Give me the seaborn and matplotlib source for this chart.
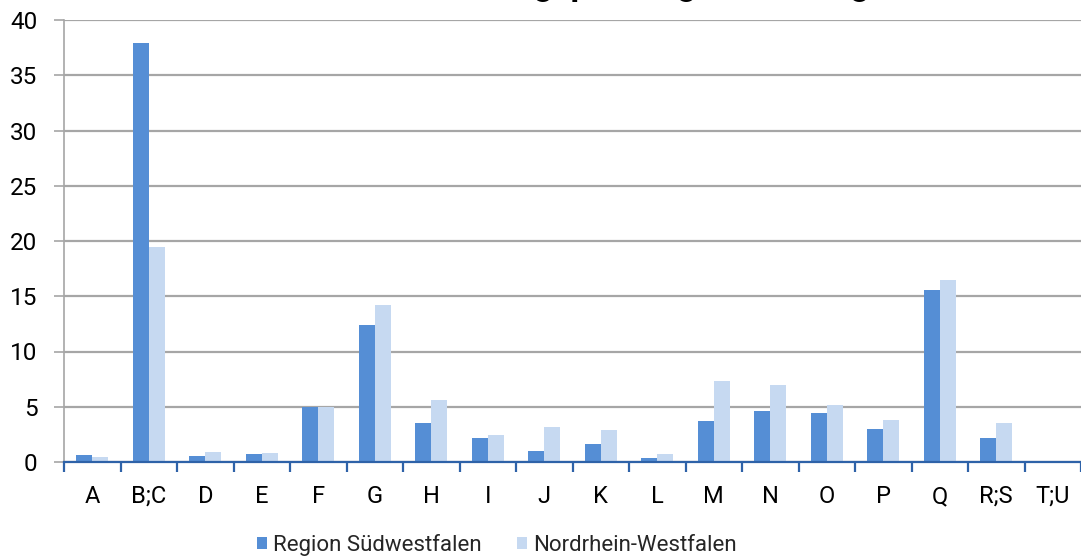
import matplotlib
matplotlib.use("Agg")
import matplotlib.pyplot as plt
import seaborn as sns
import pandas as pd
from matplotlib.ticker import MultipleLocator, FixedLocator
from matplotlib.patches import Patch

categories = ["A", "B;C", "D", "E", "F", "G", "H", "I", "J", "K", "L",
              "M", "N", "O", "P", "Q", "R;S", "T;U"]
series_names = ["Region Südwestfalen", "Nordrhein-Westfalen"]
suedwestfalen = [0.6, 37.9, 0.5, 0.7, 5.0, 12.4, 3.5, 2.2, 1.0, 1.6, 0.4,
                 3.7, 4.6, 4.4, 3.0, 15.6, 2.2, 0.1]
nrw = [0.45, 19.5, 0.9, 0.8, 5.0, 14.2, 5.6, 2.4, 3.2, 2.9, 0.7,
       7.3, 7.0, 5.2, 3.8, 16.5, 3.5, 0.06]
title_text = "Sozialversicherungspflichtig Beschäftigte"

df = pd.DataFrame({
    "cat": categories * 2,
    "val": suedwestfalen + nrw,
    "series": [series_names[0]] * len(categories) + [series_names[1]] * len(categories),
})

sns.set_theme(style="white")
plt.rcParams["font.family"] = ["Roboto", "DejaVu Sans"]

colors = ["#558ED5", "#C6D9F1"]
fig = plt.figure(figsize=(10.81, 5.57), dpi=100)
ax = fig.add_axes([64 / 1081, 1 - 462 / 557, 1 - 64 / 1081, (462 - 20) / 557])

sns.barplot(data=df, x="cat", y="val", hue="series", order=categories,
            hue_order=series_names, palette=colors, width=0.57,
            saturation=1, ax=ax, legend=False, linewidth=0)

ax.set_xlim(-0.5, len(categories) - 0.5)
ax.set_ylim(0, 40)
ax.yaxis.set_major_locator(MultipleLocator(5))
ax.grid(axis="y", color="#A6A6A6", linewidth=1.6)
ax.set_axisbelow(True)
ax.set_xlabel("")
ax.set_ylabel("")

for s in ["top", "right"]:
    ax.spines[s].set_visible(False)
ax.spines["left"].set_color("#A6A6A6")
ax.spines["left"].set_linewidth(1.2)
ax.spines["bottom"].set_color("#2E62A8")
ax.spines["bottom"].set_linewidth(1.6)
ax.spines["bottom"].set_zorder(5)

ax.tick_params(axis="y", which="major", length=7, width=1.2, color="#A6A6A6",
               labelsize=17.5, labelcolor="#000000", pad=12, left=True)
ax.xaxis.set_minor_locator(FixedLocator([i - 0.5 for i in range(len(categories) + 1)]))
ax.tick_params(axis="x", which="major", length=0, labelsize=17,
               labelcolor="#000000", pad=16.5)
ax.tick_params(axis="x", which="minor", length=7, width=1.6, color="#2E62A8",
               bottom=True, direction="out")

fig.text(580 / 1081, 1 + 5 / 557, title_text, ha="center",
         va="baseline", fontsize=24.5, fontweight="bold", color="#000000")

handles = [Patch(facecolor=c, edgecolor="none") for c in colors]
fig.legend(handles, series_names, loc="center", bbox_to_anchor=(497 / 1081, 1 - 545 / 557),
           ncol=2, frameon=False, fontsize=16, handlelength=0.45, handleheight=0.45,
           handletextpad=0.27, columnspacing=1.6, borderaxespad=0, borderpad=0)

fig.savefig("out.png", dpi=100)
